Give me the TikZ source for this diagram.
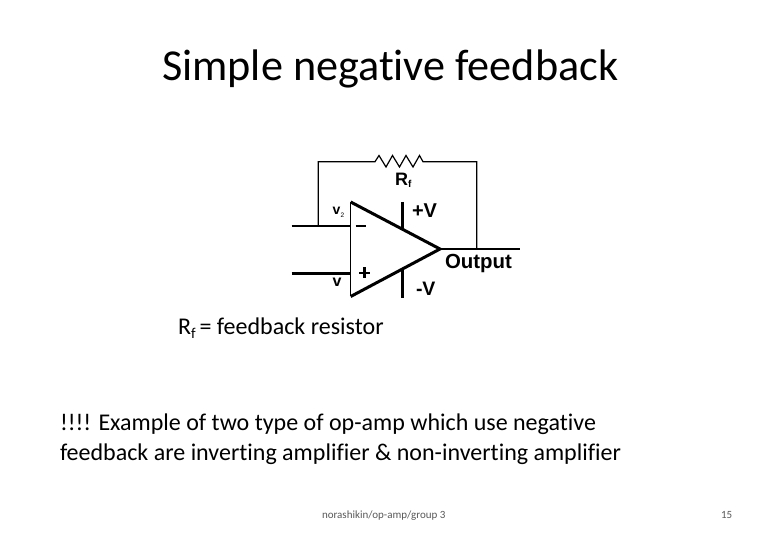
\documentclass[tikz,border=0pt]{standalone}
\usepackage{fontspec}
\setmainfont[RawFeature={-liga;-clig}]{Carlito}
\newfontfamily\arialf{Liberation Sans}
\tikzset{
  txt/.style={inner sep=0pt,outer sep=0pt,anchor=base west,text=black},
  lbl/.style={inner sep=0pt,outer sep=0pt,anchor=base west,text=black,font=\arialf},
  wire/.style={line width=1.2pt,black},
  thick wire/.style={line width=2.5pt,black},
  heavy/.style={line width=3pt,black,line join=miter}
}
\begin{document}
\begin{tikzpicture}[x=1pt,y=-1pt]
\useasboundingbox (0,0) rectangle (780,540);
\fill[white] (0,0) rectangle (780,540);
% title
\node[txt,font=\fontsize{44.2}{48}\selectfont] (title) at (162,81) {Simple negative feedback};
% op-amp
\coordinate (tl) at (350.7,202);
\coordinate (bl) at (350.7,296.5);
\coordinate (apex) at (440,249);
\draw[line width=1.5pt] (tl) -- (bl);
\draw[heavy] (tl) -- (apex) -- (bl);
\coordinate (inm) at (291.7,226);
\coordinate (inmr) at (351,226);
\coordinate (inp) at (291.7,273.7);
\coordinate (inpr) at (351,273.7);
\coordinate (out) at (520,249);
\coordinate (tap) at (318.3,226);
\coordinate (fbl) at (318.3,161.7);
\coordinate (fbr) at (476.7,161.7);
\coordinate (tapr) at (476.7,249);
\coordinate (pvt) at (402.3,202);
\coordinate (pvb) at (402.3,230);
\coordinate (nvt) at (402.3,270);
\coordinate (nvb) at (402.3,298);
\draw[thick wire] (inm) -- (inmr);
\draw[thick wire] (inp) -- (inpr);
\draw[thick wire] (apex) -- (out);
\draw[thick wire] (pvt) -- (pvb);
\draw[thick wire] (nvt) -- (nvb);
% minus / plus
\draw[line width=2pt] (355.5,226.3) -- (365.5,226.3);
\draw[line width=2.6pt] (359,273) -- (370,273) (364.5,267.5) -- (364.5,278.5);
% feedback with resistor
\draw[wire,line join=miter] (tap) -- (fbl) -- (375,161.7) -- (379,155.5) -- (386,167) -- (392.5,155.5) -- (399.5,167) -- (406,155.5) -- (413,167) -- (419.5,155.5) -- (423,161.7) -- (fbr) -- (tapr);
% labels
\node[lbl,font=\arialf\bfseries\fontsize{18}{20}\selectfont] (rf) at (395,185.7) {R};
\node[lbl,font=\arialf\bfseries\fontsize{10}{11}\selectfont] (rfs) at (408,188) {f};
\node[lbl,font=\arialf\bfseries\fontsize{14}{16}\selectfont] (v2) at (332.5,215) {v};
\node[lbl,font=\arialf\fontsize{6.5}{7}\selectfont] (v2s) at (340.5,218) {2};
\node[lbl,font=\arialf\bfseries\fontsize{16}{17}\selectfont] (v1) at (332.5,287) {v};
\node[lbl,font=\arialf\bfseries\fontsize{20}{22}\selectfont] (pv) at (412,217.7) {+V};
\node[lbl,font=\arialf\bfseries\fontsize{19.5}{22}\selectfont] (nv) at (416,296) {-V};
\node[lbl,font=\arialf\bfseries\fontsize{20.4}{22}\selectfont] (outl) at (445,268.3) {Output};
% body text
\node[txt,font=\fontsize{24}{28}\selectfont] (rfdef) at (178,335) {R\raisebox{-3.5pt}{\fontsize{15}{15}\selectfont f}\,= feedback resistor};
\node[txt,font=\fontsize{24}{28}\selectfont] (ex1) at (60,430) {!!!! Example of two type of op-amp which use negative};
\node[txt,font=\fontsize{24}{28}\selectfont] (ex2) at (60,460) {feedback are inverting amplifier \& non-inverting amplifier};
\node[txt,font=\fontsize{11}{13}\selectfont,text=black!65] (foot) at (322,518) {norashikin/op-amp/group 3};
\node[txt,font=\fontsize{11}{13}\selectfont,text=black!65] (num) at (721,518) {15};
\end{tikzpicture}
\end{document}
